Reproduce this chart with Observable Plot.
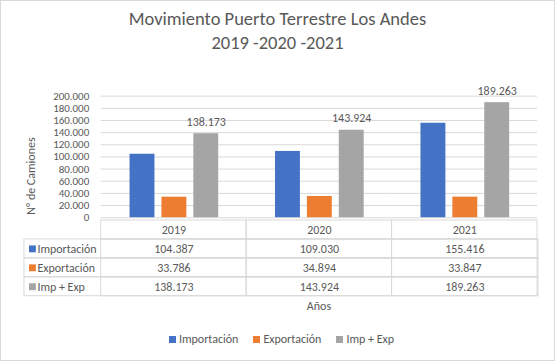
<!DOCTYPE html>
<html><head><meta charset="utf-8">
<script src="https://cdn.jsdelivr.net/npm/d3@7"></script>
<script src="https://cdn.jsdelivr.net/npm/@observablehq/plot@0.6"></script>
<style>
body{margin:0;background:#fff;font-family:Carlito,Lato,sans-serif;}
#chart{position:relative;width:553px;height:359px;border:1px solid #d9d9d9;background:#fff;overflow:hidden;color:#595959;}
.abs{position:absolute;}
#title{left:0;width:553px;top:6px;text-align:center;font-size:18.5px;line-height:24px;color:#595959;font-weight:300;}
#ylab{left:18px;top:125px;}
#xlab{left:318px;top:298px;transform:translateX(-50%);font-size:12px;}
#legend{left:4px;width:553px;top:331px;display:flex;justify-content:center;}
#legend > div{font-size:12px;font-family:Carlito,Lato,sans-serif;color:#595959;margin:0;min-height:0;}
#legend span{margin-right:15px;}
#legend span:last-child{margin-right:0;}
#legend svg{margin-right:3px;}
#plotA,#plotB{left:0;}
#plotA{top:-1px;}
#plotB{top:217px;}
</style></head><body>
<div id="chart">
  <div id="title" class="abs">Movimiento Puerto Terrestre Los Andes<br>2019 -2020 -2021</div>
  <div id="plotA" class="abs"></div>
  <div id="plotB" class="abs"></div>
  <div id="ylab" class="abs"></div>
  <div id="xlab" class="abs">Años</div>
  <div id="legend" class="abs"></div>
</div>
<script>
const years = ["2019", "2020", "2021"];
const series = ["Importación", "Exportación", "Imp + Exp"];
const importacion = [104387, 109030, 155416];
const exportacion = [33786, 34894, 33847];
const impExp = [138173, 143924, 189263];
const colors = ["#4472C4", "#ED7D31", "#A5A5A5"];
const yTicks = [0, 20000, 40000, 60000, 80000, 100000, 120000, 140000, 160000, 180000, 200000];
const yTitle = "N° de Camiones";

const fmt = v => d3.format(",")(v).replace(/,/g, ".");
const seriesValues = [importacion, exportacion, impExp];
const rows = years.flatMap((year, i) => series.map((s, k) => ({year, series: s, value: seriesValues[k][i]})));

const font = "Carlito, Lato, sans-serif";
const grid = "#d9d9d9";

const plotA = Plot.plot({
  width: 555, height: 222,
  marginTop: 96, marginBottom: 4, marginLeft: 99, marginRight: 16,
  style: {fontFamily: font, fontSize: "11px", color: "#595959", background: "transparent", overflow: "visible"},
  facet: {data: rows, x: "year"},
  fx: {domain: years, paddingInner: 0, paddingOuter: 0, axis: null, label: null},
  x: {domain: series, paddingInner: 0.23, paddingOuter: 0.87, axis: null},
  y: {domain: [0, 200000], ticks: yTicks, tickFormat: fmt, tickSize: 0, tickPadding: 12, label: null},
  color: {domain: series, range: colors},
  marks: [
    Plot.ruleY(yTicks, {stroke: grid}),
    Plot.barY(rows, {x: "series", y: "value", fill: "series"}),
    Plot.text(rows, {filter: d => d.series === "Imp + Exp", x: "series", y: "value", text: d => fmt(d.value), dy: -12, fill: "#595959", fontSize: 12})
  ]
});
document.getElementById("plotA").appendChild(plotA);

// rotated y-axis title as SVG text
const ysvg = d3.select("#ylab").append("svg").attr("width", 24).attr("height", 100);
ysvg.append("text")
  .attr("transform", "translate(12,50) rotate(-90)")
  .attr("text-anchor", "middle").attr("dominant-baseline", "central")
  .attr("fill", "#595959").attr("font-family", font).attr("font-size", 12)
  .text(yTitle);

const tableRows = ["", ...series];
const tableCells = years.flatMap(year => tableRows.map(row => ({year, row})));

const plotB = Plot.plot({
  width: 555, height: 79,
  marginTop: 1, marginBottom: 1, marginLeft: 23, marginRight: 16,
  style: {fontFamily: font, fontSize: "12px", color: "#595959", background: "transparent", overflow: "visible"},
  x: {domain: years, range: [99, 539], paddingInner: 0, paddingOuter: 0, axis: null},
  y: {domain: tableRows, paddingInner: 0, paddingOuter: 0, axis: null},
  color: {domain: series, range: colors},
  marks: [
    Plot.cell(series, {y: d => d, stroke: grid, fill: "none"}),
    Plot.cell(tableCells, {x: "year", y: "row", stroke: grid, fill: "none"}),
    Plot.text(years, {x: d => d, y: () => "", text: d => d, fill: "#595959"}),
    Plot.text(rows, {x: "year", y: "series", text: d => fmt(d.value), fill: "#595959"}),
    Plot.dot(series, {y: d => d, frameAnchor: "left", dx: 8, symbol: "square", r: 3.9, fill: d => d}),
    Plot.text(series, {y: d => d, text: d => d, frameAnchor: "left", dx: 13, textAnchor: "start", fill: "#595959"})
  ]
});
document.getElementById("plotB").appendChild(plotB);

const legend = Plot.legend({color: {domain: series, range: colors}, swatchSize: 7, style: {fontFamily: font, fontSize: "12px"}});
document.getElementById("legend").appendChild(legend);
</script>
</body></html>
